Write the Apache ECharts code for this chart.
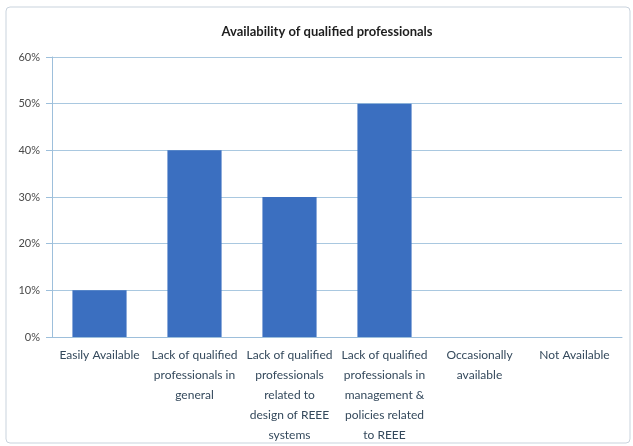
<!DOCTYPE html>
<html>
<head>
<meta charset="utf-8">
<script src="https://cdn.jsdelivr.net/npm/echarts@6/dist/echarts.min.js"></script>
<style>
  html, body { margin: 0; padding: 0; background: #fff; }
  #chart { width: 633px; height: 446px; }
</style>
</head>
<body>
<div id="chart"></div>
<script>
// 分类
const categories = [
  "Easily Available",
  "Lack of qualified\nprofessionals in\ngeneral",
  "Lack of qualified\nprofessionals\nrelated to\ndesign of REEE\nsystems",
  "Lack of qualified\nprofessionals in\nmanagement &\npolicies related\nto REEE",
  "Occasionally\navailable",
  "Not Available"
];
// 数值 (%)
const values = [10, 40, 30, 50, 0, 0];
const yTicks = [0, 10, 20, 30, 40, 50, 60];

const chart = echarts.init(document.getElementById("chart"));
chart.setOption({
  animation: false,
  title: {
    text: "Availability of qualified professionals",
    top: 20,
    left: 322,
    textAlign: "center",
    textStyle: {
      fontFamily: "Lato",
      fontSize: 13,
      fontWeight: "bold",
      color: "#1e1e1e"
    }
  },
  // 外框
  graphic: [{
    type: "rect",
    shape: { x: 6, y: 7, width: 624, height: 436, r: 4 },
    style: { fill: "none", stroke: "#c9d3dd", lineWidth: 1 },
    z: -1
  }],
  grid: {
    left: 52,
    right: 11,
    top: 57,
    bottom: 109
  },
  xAxis: {
    type: "category",
    data: categories,
    axisLine: { lineStyle: { color: "#9dbfdb", width: 1 } },
    axisTick: { show: false },
    axisLabel: {
      interval: 0,
      color: "#34495c",
      fontFamily: "Lato",
      fontSize: 12,
      lineHeight: 20,
      margin: 8
    }
  },
  yAxis: {
    type: "value",
    min: yTicks[0],
    max: yTicks[yTicks.length - 1],
    interval: 10,
    axisLine: { show: true, lineStyle: { color: "#9dbfdb", width: 1 } },
    axisTick: { show: true, inside: false, length: 6, lineStyle: { color: "#9dbfdb" } },
    splitLine: { lineStyle: { color: "#a9c8e0", width: 1 } },
    axisLabel: {
      formatter: "{value}%",
      color: "#4a4a4a",
      fontFamily: "Lato",
      fontSize: 11,
      margin: 12
    }
  },
  series: [{
    type: "bar",
    data: values,
    barCategoryGap: "43%",
    itemStyle: { color: "#3b6fc0" }
  }]
});
</script>
</body>
</html>
